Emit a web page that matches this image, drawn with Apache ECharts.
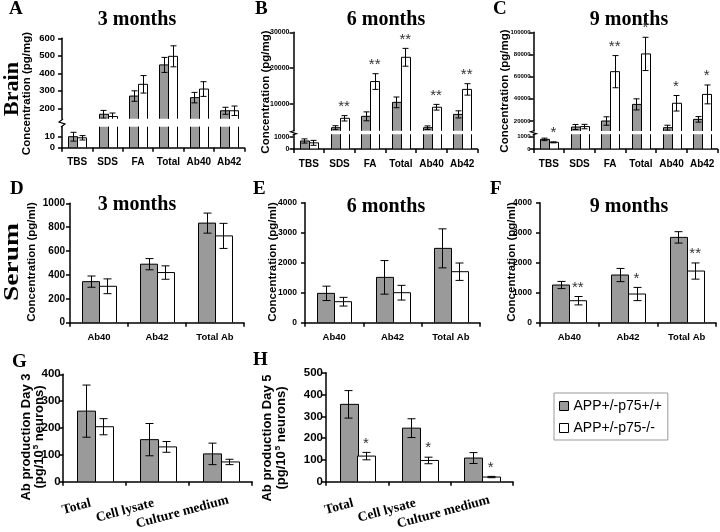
<!DOCTYPE html>
<html><head><meta charset="utf-8">
<script src="https://cdn.jsdelivr.net/npm/echarts@6/dist/echarts.min.js"></script>
<style>html,body{margin:0;padding:0;background:#fff}#c{width:720px;height:532px}</style>
</head><body><div id="c"></div>
<script>
// ---------- data ----------
const seriesNames = ['APP+/-p75+/+', 'APP+/-p75-/-'];
const brainCats = ['TBS', 'SDS', 'FA', 'Total', 'Ab40', 'Ab42'];
const serumCats = ['Ab40', 'Ab42', 'Total Ab'];
const cultureCats = ['Total', 'Cell lysate', 'Culture medium'];

// A: brain 3 months (pg/mg)
const brain3Gray = [10, 166, 270, 448, 261, 186];
const brain3GrayErr = [4, 22, 30, 43, 30, 20];
const brain3White = [9, 153, 337, 497, 310, 186];
const brain3WhiteErr = [2, 20, 50, 60, 42, 27];
const brain3Sig = ['', '', '', '', '', ''];
const brain3UpperTicks = [200, 300, 400, 500, 600];
const brain3LowerTicks = [0, 10];

// B: brain 6 months
const brain6Gray = [650, 3270, 6450, 10370, 3270, 7000];
const brain6GrayErr = [170, 550, 1250, 1500, 500, 1000];
const brain6White = [500, 5900, 16200, 23000, 9000, 14000];
const brain6WhiteErr = [200, 750, 2200, 2500, 800, 1600];
const brain6Sig = ['', '**', '**', '**', '**', '**'];
const brain6UpperTicks = [10000, 20000, 30000];
const brain6LowerTicks = [0, 1000];

// C: brain 9 months
const brain9Gray = [780, 14600, 20000, 35000, 14000, 21500];
const brain9GrayErr = [100, 2300, 3800, 5000, 2200, 2500];
const brain9White = [540, 15000, 64500, 80500, 36000, 44000];
const brain9WhiteErr = [40, 2000, 14500, 15000, 7000, 8500];
const brain9Sig = ['*', '', '**', '*', '*', '*'];
const brain9UpperTicks = [20000, 40000, 60000, 80000, 100000];
const brain9LowerTicks = [0, 1000];

// D: serum 3 months (pg/ml)
const serum3Gray = [344, 490, 834];
const serum3GrayErr = [47, 47, 84];
const serum3White = [305, 420, 727];
const serum3WhiteErr = [62, 56, 105];
const serum3Sig = ['', '', ''];
const serum3Ticks = [0, 200, 400, 600, 800, 1000];

// E: serum 6 months
const serum6Gray = [978, 1511, 2478];
const serum6GrayErr = [240, 560, 650];
const serum6White = [700, 1000, 1700];
const serum6WhiteErr = [145, 245, 290];
const serum6Sig = ['', '', ''];
const serum6Ticks = [0, 1000, 2000, 3000, 4000];

// F: serum 9 months
const serum9Gray = [1256, 1589, 2844];
const serum9GrayErr = [120, 220, 190];
const serum9White = [733, 956, 1722];
const serum9WhiteErr = [140, 220, 270];
const serum9Sig = ['**', '*', '**'];
const serum9Ticks = [0, 1000, 2000, 3000, 4000];

// G: Ab production day 3 (pg/10^5 neurons)
const day3Gray = [263, 157, 104];
const day3GrayErr = [97, 60, 40];
const day3White = [205, 130, 74];
const day3WhiteErr = [30, 20, 10];
const day3Sig = ['', '', ''];
const day3Ticks = [0, 100, 200, 300, 400];

// H: Ab production day 5
const day5Gray = [355, 246, 109];
const day5GrayErr = [63, 43, 25];
const day5White = [118, 98, 22];
const day5WhiteErr = [17, 15, 3];
const day5Sig = ['*', '*', '*'];
const day5Ticks = [0, 100, 200, 300, 400, 500];

// ---------- layout / style ----------
const SANS = '"Liberation Sans", Arial, Helvetica, sans-serif';
const SERIF = '"Liberation Serif", "Times New Roman", Times, serif';
const GRAY = '#9a9a9a';
const AXW = 1.5;
// per-label nudges (padding right) for the slanted culture labels
const cultureLabelPad = [4, 4, -8];

const panels = [
  {cats: brainCats, gray: brain3Gray, grayErr: brain3GrayErr, white: brain3White, whiteErr: brain3WhiteErr, sig: brain3Sig,
   left: 62, width: 182.4, barW: 9, cap: 6, yFont: 9.5, yMargin: 7, xFont: 10, xMargin: 10, xRotate: 0, xSerif: false,
   segs: [{top: 38.3, bottom: 118.8, min: 140, max: 600, ticks: brain3UpperTicks, showX: false},
          {top: 126.8, bottom: 147.7, min: 0, max: 19, ticks: brain3LowerTicks, showX: true}]},
  {cats: brainCats, gray: brain6Gray, grayErr: brain6GrayErr, white: brain6White, whiteErr: brain6WhiteErr, sig: brain6Sig,
   left: 293.5, width: 184, barW: 9, cap: 6, yFont: 7, yMargin: 4, xFont: 10, xMargin: 10, xRotate: 0, xSerif: false,
   segs: [{top: 32.3, bottom: 130.8, min: 2400, max: 30000, ticks: brain6UpperTicks, showX: false},
          {top: 134.2, bottom: 149, min: 0, max: 1200, ticks: brain6LowerTicks, showX: true}]},
  {cats: brainCats, gray: brain9Gray, grayErr: brain9GrayErr, white: brain9White, whiteErr: brain9WhiteErr, sig: brain9Sig,
   left: 533.5, width: 184, barW: 9, cap: 6, yFont: 6, yMargin: 3, xFont: 10, xMargin: 10, xRotate: 0, xSerif: false,
   segs: [{top: 32.3, bottom: 131, min: 11000, max: 100000, ticks: brain9UpperTicks, showX: false},
          {top: 134.2, bottom: 149, min: 0, max: 1200, ticks: brain9LowerTicks, showX: true}]},
  {cats: serumCats, gray: serum3Gray, grayErr: serum3GrayErr, white: serum3White, whiteErr: serum3WhiteErr, sig: serum3Sig,
   left: 70, width: 174, barW: 16.7, cap: 8, yFont: 10, yMargin: 5, xFont: 9.5, xMargin: 10, xRotate: 0, xSerif: false,
   segs: [{top: 203.3, bottom: 322.7, min: 0, max: 1000, ticks: serum3Ticks, showX: true}]},
  {cats: serumCats, gray: serum6Gray, grayErr: serum6GrayErr, white: serum6White, whiteErr: serum6WhiteErr, sig: serum6Sig,
   left: 305, width: 175, barW: 17, cap: 8, yFont: 8.5, yMargin: 8, xFont: 9.5, xMargin: 10, xRotate: 0, xSerif: false,
   segs: [{top: 202.7, bottom: 322.7, min: 0, max: 4000, ticks: serum6Ticks, showX: true}]},
  {cats: serumCats, gray: serum9Gray, grayErr: serum9GrayErr, white: serum9White, whiteErr: serum9WhiteErr, sig: serum9Sig,
   left: 540, width: 176, barW: 17, cap: 8, yFont: 8.5, yMargin: 8, xFont: 9.5, xMargin: 10, xRotate: 0, xSerif: false,
   segs: [{top: 202.7, bottom: 322.7, min: 0, max: 4000, ticks: serum9Ticks, showX: true}]},
  {cats: cultureCats, gray: day3Gray, grayErr: day3GrayErr, white: day3White, whiteErr: day3WhiteErr, sig: day3Sig,
   left: 63.2, width: 189, barW: 17.5, cap: 8, yFont: 11.5, yMargin: 2.5, xFont: 13.5, xMargin: 20, xRotate: 15, xSerif: true,
   labelPad: cultureLabelPad,
   segs: [{top: 374.3, bottom: 486, min: 0, max: 400, ticks: day3Ticks, showX: true}]},
  {cats: cultureCats, gray: day5Gray, grayErr: day5GrayErr, white: day5White, whiteErr: day5WhiteErr, sig: day5Sig,
   left: 326, width: 187, barW: 17.5, cap: 8, yFont: 11.5, yMargin: 3, xFont: 13.5, xMargin: 20, xRotate: 15, xSerif: true,
   labelPad: cultureLabelPad,
   segs: [{top: 372.7, bottom: 485.3, min: 0, max: 500, ticks: day5Ticks, showX: true}]}
];

function barRender(barW, side, color) {
  return function (params, api) {
    const i = api.value(0), v = api.value(1);
    const t = api.coord([i, v]);
    const b = api.coord([i, 0]);
    const x0 = Math.round(side < 0 ? t[0] - barW : t[0]) + 0.5;
    const w = Math.round(barW);
    return {type: 'rect', shape: {x: x0, y: t[1], width: w, height: b[1] - t[1]},
      style: {fill: color, stroke: '#000', lineWidth: 1}};
  };
}

function errRender(barW, cap) {
  return function (params, api) {
    const i = api.value(0);
    const kids = [];
    [[api.value(1), api.value(2), -1], [api.value(3), api.value(4), 1]].forEach(function (d) {
      const t = api.coord([i, d[0] + d[1]]);
      const b = api.coord([i, d[0] - d[1]]);
      const x = Math.round(t[0] + d[2] * barW / 2) + 0.5;
      const st = {stroke: '#000', lineWidth: 1};
      kids.push({type: 'line', shape: {x1: x, y1: t[1], x2: x, y2: b[1]}, style: st});
      kids.push({type: 'line', shape: {x1: x - cap / 2, y1: t[1], x2: x + cap / 2, y2: t[1]}, style: st});
      kids.push({type: 'line', shape: {x1: x - cap / 2, y1: b[1], x2: x + cap / 2, y2: b[1]}, style: st});
    });
    return {type: 'group', children: kids};
  };
}

function sigRender(sig, seg, barW) {
  return function (params, api) {
    const s = sig[params.dataIndex];
    const v = api.value(1);
    if (!s || v > seg.max || v < seg.min) return null;
    const c = api.coord([api.value(0), v]);
    return {type: 'text', x: c[0] + barW / 2, y: c[1] - 1.5,
      style: {text: s, font: '15px ' + SANS, fill: '#333', align: 'center', verticalAlign: 'bottom'}};
  };
}

const grid = [], xAxis = [], yAxis = [], series = [];
panels.forEach(function (p) {
  p.segs.forEach(function (seg) {
    const gi = grid.length;
    grid.push({left: p.left, top: seg.top, width: p.width, height: seg.bottom - seg.top, containLabel: false});
    const catData = p.labelPad
      ? p.cats.map(function (c, i) { return {value: c, textStyle: {padding: [0, p.labelPad[i], 0, 0]}}; })
      : p.cats;
    xAxis.push({type: 'category', gridIndex: gi, data: catData, show: seg.showX,
      axisLine: {show: true, onZero: false, lineStyle: {color: '#000', width: AXW}},
      axisTick: {show: true, length: 4, lineStyle: {color: '#000', width: AXW}},
      axisLabel: {show: true, color: '#000', fontFamily: p.xSerif ? SERIF : SANS, fontWeight: 'bold',
        fontSize: p.xFont, margin: p.xMargin, rotate: p.xRotate, interval: 0},
      splitLine: {show: false}});
    yAxis.push({type: 'value', gridIndex: gi, min: seg.min, max: seg.max,
      axisLine: {show: true, lineStyle: {color: '#000', width: AXW}},
      axisTick: {show: true, length: 4, customValues: seg.ticks, lineStyle: {color: '#000', width: AXW}},
      axisLabel: {customValues: seg.ticks, color: '#000', fontFamily: SANS, fontWeight: 'bold',
        fontSize: p.yFont, margin: p.yMargin, formatter: function (v) { return String(v); }},
      splitLine: {show: false}});
    [[p.gray, -1, GRAY, seriesNames[0]], [p.white, 1, '#fff', seriesNames[1]]].forEach(function (s) {
      series.push({type: 'custom', name: s[3], xAxisIndex: gi, yAxisIndex: gi, clip: true, silent: true, z: 3,
        itemStyle: {color: s[2], borderColor: '#000', borderWidth: 1},
        encode: {x: 0, y: 1},
        data: p.cats.map(function (c, i) { return [i, s[0][i]]; }),
        renderItem: barRender(p.barW, s[1], s[2])});
    });
    series.push({type: 'custom', xAxisIndex: gi, yAxisIndex: gi, clip: true, silent: true, z: 5,
      data: p.cats.map(function (c, i) { return [i, p.gray[i], p.grayErr[i], p.white[i], p.whiteErr[i]]; }),
      renderItem: errRender(p.barW, p.cap)});
    series.push({type: 'custom', xAxisIndex: gi, yAxisIndex: gi, clip: false, silent: true, z: 6,
      data: p.cats.map(function (c, i) { return [i, p.white[i] + p.whiteErr[i]]; }),
      renderItem: sigRender(p.sig, seg, p.barW)});
  });
});

// ---------- annotation texts ----------
const graphic = [];
function txt(x, y, text, font, opts) {
  opts = opts || {};
  graphic.push({type: 'text', x: x, y: y, rotation: opts.rot || 0, scaleX: opts.sx || 1, silent: true,
    style: {text: text, font: font, fill: '#000', align: opts.align || 'center', verticalAlign: 'middle',
      rich: opts.rich}});
}
const letterFont = 'bold 19px ' + SERIF;
[['A', 9, 9], ['B', 255, 9], ['C', 493, 9], ['D', 10, 189], ['E', 253, 189], ['F', 490, 189], ['G', 12, 362], ['H', 253, 360]]
  .forEach(function (l) { txt(l[1], l[2], l[0], letterFont, {align: 'left'}); });
const titleFont = 'bold 20px ' + SERIF;
[['3 months', 137, 20], ['6 months', 386, 20], ['9 months', 629, 20], ['3 months', 137, 205], ['6 months', 386, 207], ['9 months', 629, 207]]
  .forEach(function (t) { txt(t[1], t[2], t[0], titleFont); });
const R = Math.PI / 2;
txt(12, 89, 'Brain', 'bold 22px ' + SERIF, {rot: R});
txt(12, 262, 'Serum', 'bold 22px ' + SERIF, {rot: R, sx: 1.25});
const yt = 'bold 11.5px ' + SANS;
txt(27, 93.5, 'Concentration (pg/mg)', yt, {rot: R});
txt(266, 92, 'Concentration (pg/mg)', yt, {rot: R});
txt(505, 91, 'Concentration (pg/mg)', yt, {rot: R});
txt(32, 262, 'Concentration (pg/ml)', yt, {rot: R});
txt(273, 262, 'Concentration (pg/ml)', yt, {rot: R});
txt(512, 262, 'Concentration (pg/ml)', yt, {rot: R});
const yt2 = 'bold 13px ' + SANS;
const supRich = {s: {font: 'bold 8px ' + SANS, verticalAlign: 'top', padding: [0, 0, 6, 1]}};
txt(26, 437, 'Ab production Day 3', yt2, {rot: R});
txt(39, 437, '(pg/10{s|5} neurons)', yt2, {rot: R, rich: supRich});
txt(267, 438, 'Ab production Day 5', yt2, {rot: R});
txt(281, 438, '(pg/10{s|5} neurons)', yt2, {rot: R, rich: supRich});
// axis break marks
[[62, 119, 127], [293.5, 130.5, 135], [533.5, 130.5, 135]].forEach(function (b) {
  const m = (b[1] + b[2]) / 2;
  graphic.push({type: 'polyline', silent: true,
    shape: {points: [[b[0] - 1, b[2]], [b[0] + 3, m + 1], [b[0] - 3, m - 1], [b[0] + 1, b[1]]]},
    style: {stroke: '#000', lineWidth: 1.2, fill: null}});
});

const chart = echarts.init(document.getElementById('c'), null, {renderer: 'canvas'});
chart.setOption({
  animation: false,
  backgroundColor: '#fff',
  grid: grid, xAxis: xAxis, yAxis: yAxis, series: series, graphic: graphic,
  legend: {left: 554, top: 393, orient: 'vertical', padding: [6, 6, 5, 5], itemGap: 8, itemWidth: 9, itemHeight: 9,
    borderColor: '#999', borderWidth: 1, icon: 'rect', selectedMode: false,
    textStyle: {fontFamily: SANS, fontSize: 14, color: '#000'},
    data: seriesNames.map(function (n, i) {
      return {name: n, itemStyle: {color: i ? '#fff' : GRAY, borderColor: '#000', borderWidth: 1}};
    })}
});
</script></body></html>
